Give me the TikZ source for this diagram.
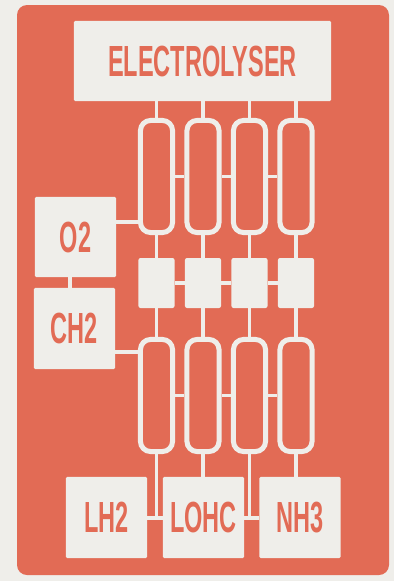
\documentclass[tikz,border=0pt]{standalone}
\usepackage{fontspec}
\newfontfamily\labelfont[FakeStretch=0.54]{Liberation Sans Bold}
\usetikzlibrary{positioning,backgrounds}

\definecolor{cardred}{HTML}{E26B55}
\definecolor{paper}{HTML}{EFEEEA}

\tikzset{
  block/.style={draw=none, fill=paper, text=cardred, inner sep=0pt, rounded corners=0.03cm, font=\labelfont\fontsize{31}{31}\selectfont},
  tube/.style={draw=paper, line width=0.125cm, fill=none, rounded corners=0.25cm, minimum width=0.8cm, minimum height=2.8cm, inner sep=0pt},
  square/.style={fill=paper, rounded corners=0.05cm, minimum width=0.9cm, minimum height=1.25cm, inner sep=0pt},
  pipe/.style={draw=paper, line width=0.085cm}
}

\begin{document}
\begin{tikzpicture}[x=0.025cm, y=-0.025cm]
  \useasboundingbox (0,0) rectangle (394,581);
  \fill[paper] (0,0) rectangle (394,581);
  \fill[cardred, rounded corners=0.25cm] (17,5) rectangle (389,575);

  \node[block, minimum width=6.425cm, minimum height=2cm] (electrolyser) at (202.5,61) {ELECTROLYSER};
  \node[block, minimum width=2.025cm, minimum height=2cm] (otwo) at (75.5,237) {O2};
  \node[block, minimum width=2.025cm, minimum height=2.025cm] (chtwo) at (74.5,328.5) {CH2};
  \node[block, minimum width=2.025cm, minimum height=2.025cm] (lhtwo) at (106.5,517.5) {LH2};
  \node[block, minimum width=2.025cm, minimum height=2.025cm] (lohc) at (203.5,517.5) {LOHC};
  \node[block, minimum width=2.025cm, minimum height=2.025cm] (nhthree) at (300,517.5) {NH3};

  % four columns
  \foreach \name/\xpos in {a/156.5, b/203, c/249.5, d/296} {
    \node[tube] (top\name) at (\xpos,176.5) {};
    \node[square] (mid\name) at (\xpos,283) {};
    \node[tube] (low\name) at (\xpos,395.5) {};
    \draw[pipe] (electrolyser.south -| top\name) -- (top\name.north);
    \draw[pipe] (top\name.south) -- (mid\name.north);
    \draw[pipe] (mid\name.south) -- (low\name.north);
  }

  \foreach \from/\to in {a/b, b/c, c/d} {
    \draw[pipe] (top\from.east) -- (top\to.west);
    \draw[pipe] (mid\from.east) -- (mid\to.west);
    \draw[pipe] (low\from.east) -- (low\to.west);
  }

  \draw[pipe] (otwo.east |- 0,222) -- (topa.west |- 0,222);
  \draw[pipe] (chtwo.east |- 0,352) -- (lowa.west |- 0,352);
  \draw[pipe] (otwo.south -| 70,0) -- (chtwo.north -| 70,0);

  \draw[pipe] (lowa.south) -- (lowa.south |- 0,518);
  \draw[pipe] (lowc.south) -- (lowc.south |- 0,518);
  \draw[pipe] (lowb.south) -- (lohc.north -| lowb.south);
  \draw[pipe] (lowd.south) -- (nhthree.north -| lowd.south);
  \draw[pipe] (lhtwo.east |- 0,518) -- (lohc.west |- 0,518);
  \draw[pipe] (lohc.east |- 0,518) -- (nhthree.west |- 0,518);
\end{tikzpicture}
\end{document}
